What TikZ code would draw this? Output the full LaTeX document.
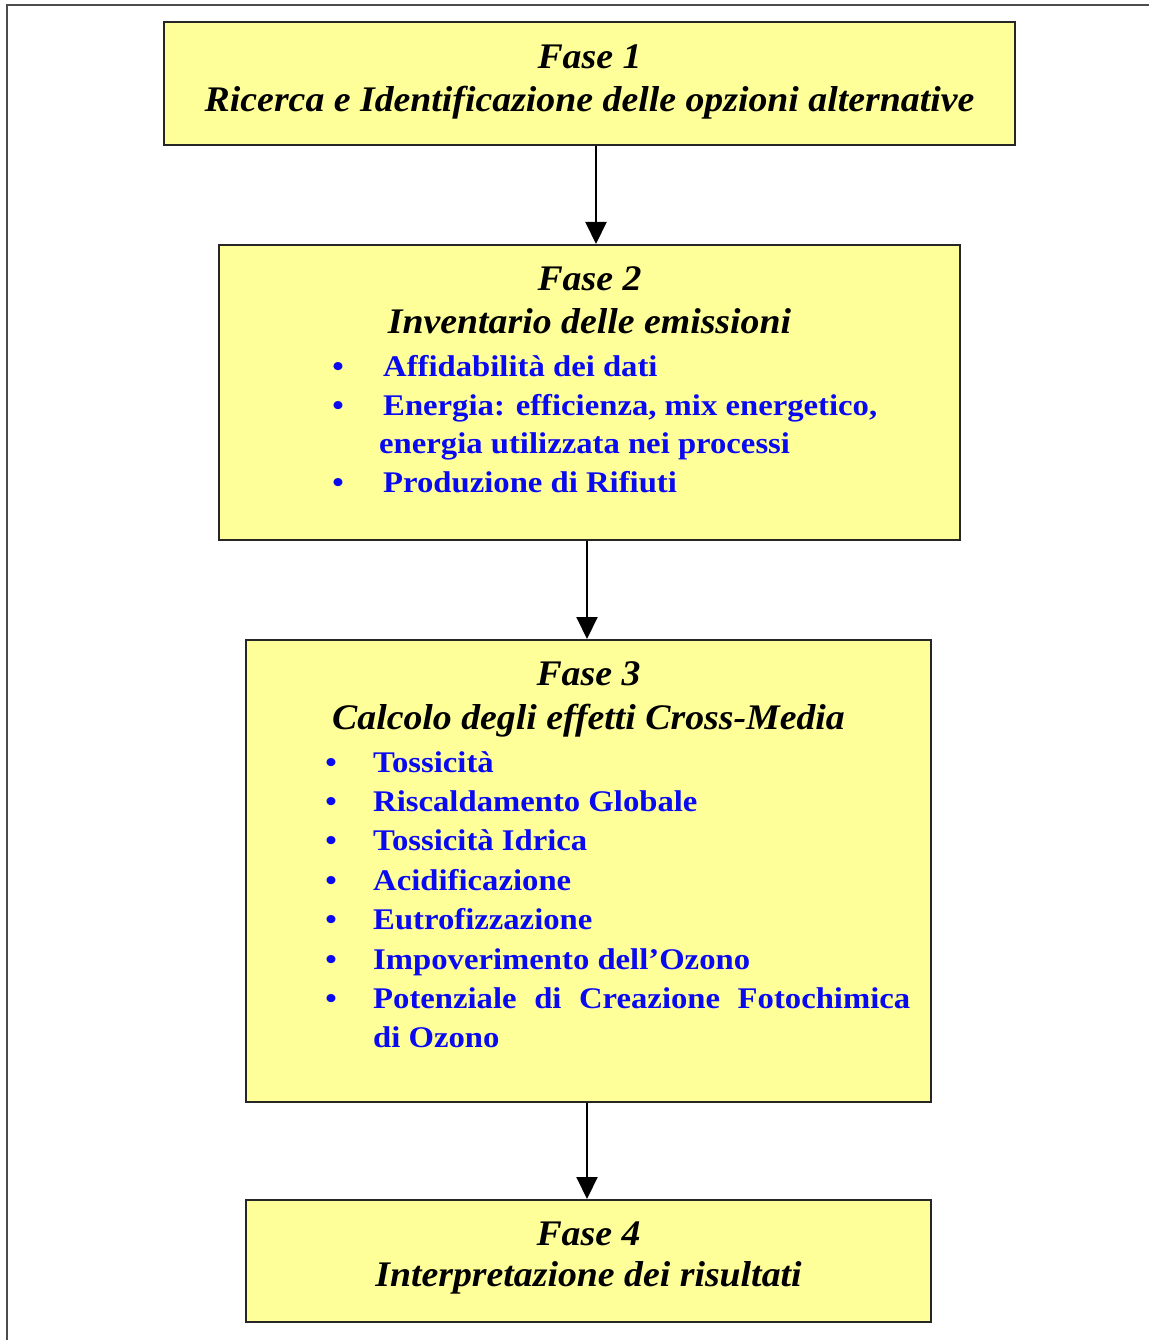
\documentclass[tikz,border=0pt]{standalone}
\usepackage{fontspec}
\setmainfont{Liberation Serif}
\newfontfamily\titlefont[FakeStretch=1.05]{Liberation Serif}
\newfontfamily\itemfont[FakeStretch=1.09]{Liberation Serif}
\usetikzlibrary{arrows.meta}
\definecolor{boxyellow}{RGB}{255,255,153}
\definecolor{itemblue}{RGB}{10,10,240}
\tikzset{
  phase/.style={draw=black!85, line width=2pt, fill=boxyellow, inner sep=0pt},
  ttl/.style={anchor=base, inner sep=0pt, font=\titlefont\bfseries\itshape\fontsize{36}{43}\selectfont, text=black},
  itm/.style={anchor=base west, inner sep=0pt, font=\itemfont\bfseries\fontsize{30}{39}\selectfont, text=itemblue},
  bul/.style={anchor=base, inner sep=0pt, font=\itemfont\bfseries\fontsize{30}{39}\selectfont, text=itemblue},
  arr/.style={line width=2pt, black, -{Triangle[width=21pt,length=22pt]}},
  frame/.style={line width=1.5pt, black!70}
}
\begin{document}
\begin{tikzpicture}[x=1pt,y=-1pt]
\useasboundingbox (0,0) rectangle (1149,1340);
\coordinate (fbl) at (7,1340);
\coordinate (ftl) at (7,5);
\coordinate (ftr) at (1149,5);
\draw[frame] (fbl) -- (ftl) -- (ftr);

% boxes
\node[phase, minimum width=851pt, minimum height=123pt] (b1) at (589.5,83.5) {};
\node[phase, minimum width=741pt, minimum height=295pt] (b2) at (589.5,392.5) {};
\node[phase, minimum width=685pt, minimum height=462pt] (b3) at (588.5,871) {};
\node[phase, minimum width=685pt, minimum height=122pt] (b4) at (588.5,1261) {};

% arrows
\coordinate (a1) at (596,0);
\coordinate (a2) at (587,0);
\draw[arr] (b1.south -| a1) -- (b2.north -| a1);
\draw[arr] (b2.south -| a2) -- (b3.north -| a2);
\draw[arr] (b3.south -| a2) -- (b4.north -| a2);

% box 1
\node[ttl] (t1a) at (589.5,69) {Fase 1};
\node[ttl] (t1b) at (589.5,112) {Ricerca e Identificazione delle opzioni alternative};

% box 2
\node[ttl] (t2a) at (589.5,290) {Fase 2};
\node[ttl] (t2b) at (589.5,333) {Inventario delle emissioni};
\node[bul] (p21) at (338,376) {\textbullet};
\node[itm] (i21) at (383,376) {Affidabilità dei dati};
\node[bul] (p22) at (338,415) {\textbullet};
\node[itm] (i22) at (383,415) {Energia: efficienza, mix energetico,};
\node[itm] (i22b) at (379,453) {energia utilizzata nei processi};
\node[bul] (p23) at (338,492) {\textbullet};
\node[itm] (i23) at (383,492) {Produzione di Rifiuti};

% box 3
\node[ttl] (t3a) at (588.5,685) {Fase 3};
\node[ttl] (t3b) at (588.5,729) {Calcolo degli effetti Cross-Media};
\node[bul] (p31) at (331,772) {\textbullet};
\node[itm] (i31) at (373,772) {Tossicità};
\node[bul] (p32) at (331,811.4) {\textbullet};
\node[itm] (i32) at (373,811.4) {Riscaldamento Globale};
\node[bul] (p33) at (331,850.8) {\textbullet};
\node[itm] (i33) at (373,850.8) {Tossicità Idrica};
\node[bul] (p34) at (331,890.2) {\textbullet};
\node[itm] (i34) at (373,890.2) {Acidificazione};
\node[bul] (p35) at (331,929.6) {\textbullet};
\node[itm] (i35) at (373,929.6) {Eutrofizzazione};
\node[bul] (p36) at (331,969) {\textbullet};
\node[itm] (i36) at (373,969) {Impoverimento dell’Ozono};
\node[bul] (p37) at (331,1008.4) {\textbullet};
\node[itm] (i37) at (373,1008.4) {\makebox[537pt][s]{Potenziale di Creazione Fotochimica}};
\node[itm] (i37b) at (373,1047.8) {di Ozono};

% box 4
\node[ttl] (t4a) at (588.5,1245) {Fase 4};
\node[ttl] (t4b) at (588.5,1286) {Interpretazione dei risultati};
\end{tikzpicture}
\end{document}
